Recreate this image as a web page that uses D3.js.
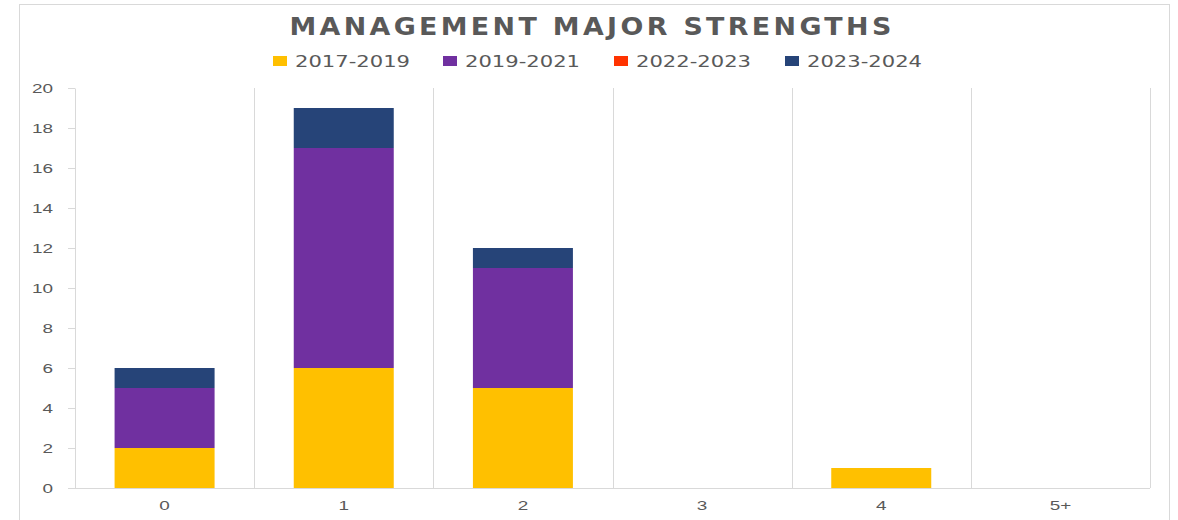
<!DOCTYPE html>
<meta charset="utf-8">
<title>Management Major Strengths</title>
<style>
body { margin: 0; background: #fff; }
svg { display: block; font-family: "DejaVu Sans", sans-serif; }
</style>
<body>
<script src="https://cdn.jsdelivr.net/npm/d3@7"></script>
<script>
var width = 1178, height = 520;

// data
var categories = ["0", "1", "2", "3", "4", "5+"];
var seriesNames = ["2017-2019", "2019-2021", "2022-2023", "2023-2024"];
var s2017 = [2, 6, 5, 0, 1, 0];
var s2019 = [3, 11, 6, 0, 0, 0];
var s2022 = [0, 0, 0, 0, 0, 0];
var s2023 = [1, 2, 1, 0, 0, 0];
var yTicks = [0, 2, 4, 6, 8, 10, 12, 14, 16, 18, 20];
var colors = ["#FFC000", "#7030A0", "#FF3300", "#264478"];

var margin = {top: 88, right: 28, bottom: 32, left: 75};
var innerW = width - margin.left - margin.right,
    innerH = height - margin.top - margin.bottom;

// the original picture is a bit wide, so widen the glyphs too
var stretchK = 1.4;
function stretch(sel, k) {
  sel.each(function() {
    var w = this.getComputedTextLength();
    d3.select(this)
      .attr("textLength", w * k)
      .attr("lengthAdjust", "spacingAndGlyphs");
  });
}

var svg = d3.select("body").append("svg")
    .attr("width", width)
    .attr("height", height);

// chart frame
svg.append("rect")
    .attr("x", 19.5).attr("y", 4.5)
    .attr("width", 1150).attr("height", 540)
    .attr("fill", "#fff")
    .attr("stroke", "#d9d9d9");

var g = svg.append("g")
    .attr("transform", "translate(" + margin.left + "," + margin.top + ")");

var x = d3.scaleBand().domain(categories).range([0, innerW]).paddingInner(0).paddingOuter(0);
var y = d3.scaleLinear().domain([0, 20]).range([innerH, 0]);

// vertical gridlines between categories
g.selectAll(".vgrid")
    .data(categories)
  .enter().append("line")
    .attr("class", "vgrid")
    .attr("x1", function(d) { return Math.round(x(d) + x.bandwidth()) + 0.5; })
    .attr("x2", function(d) { return Math.round(x(d) + x.bandwidth()) + 0.5; })
    .attr("y1", 0).attr("y2", innerH)
    .attr("stroke", "#d9d9d9");

// stacked bars
var rows = categories.map(function(c, i) {
  return {cat: c, a: s2017[i], b: s2019[i], c: s2022[i], d: s2023[i]};
});
var stack = d3.stack().keys(["a", "b", "c", "d"]);
var layers = stack(rows);
var barW = 100;

g.selectAll(".layer")
    .data(layers)
  .enter().append("g")
    .attr("fill", function(d, i) { return colors[i]; })
  .selectAll("rect")
    .data(function(d) { return d; })
  .enter().append("rect")
    .attr("x", function(d) { return x(d.data.cat) + x.bandwidth() / 2 - barW / 2; })
    .attr("width", barW)
    .attr("y", function(d) { return y(d[1]); })
    .attr("height", function(d) { return y(d[0]) - y(d[1]); });

// y axis
var yAxis = g.append("g")
    .call(d3.axisLeft(y).tickValues(yTicks).tickSize(7).tickPadding(15).tickSizeOuter(0));
yAxis.select(".domain").attr("stroke", "#d9d9d9");
yAxis.selectAll(".tick line").attr("stroke", "#d9d9d9");
yAxis.selectAll("text")
    .attr("fill", "#595959")
    .style("font-size", "13.5px")
    .call(stretch, stretchK);

// x axis
var xAxis = g.append("g")
    .attr("transform", "translate(0," + innerH + ")")
    .call(d3.axisBottom(x).tickSize(0).tickPadding(12));
xAxis.select(".domain").attr("stroke", "#d9d9d9").attr("d", "M-7,0.5H" + innerW);
xAxis.selectAll("text")
    .attr("fill", "#595959")
    .style("font-size", "13.5px")
    .call(stretch, stretchK);

// title (spaced out and widened a little)
svg.append("text")
    .attr("transform", "translate(592,35) scale(1.12,1)")
    .attr("text-anchor", "middle")
    .attr("fill", "#595959")
    .style("font-size", "24px")
    .style("font-weight", "bold")
    .style("letter-spacing", "3px")
    .text("MANAGEMENT MAJOR STRENGTHS");

// legend
var legendX = [273, 443, 614, 785];
var legend = svg.selectAll(".legend")
    .data(seriesNames)
  .enter().append("g")
    .attr("transform", function(d, i) { return "translate(" + legendX[i] + ",56)"; });
legend.append("rect")
    .attr("width", 14).attr("height", 10)
    .attr("fill", function(d, i) { return colors[i]; });
legend.append("text")
    .attr("x", 22).attr("y", 11)
    .attr("fill", "#595959")
    .style("font-size", "15.5px")
    .attr("textLength", 115)
    .attr("lengthAdjust", "spacingAndGlyphs")
    .text(function(d) { return d; });
</script>
</body>
